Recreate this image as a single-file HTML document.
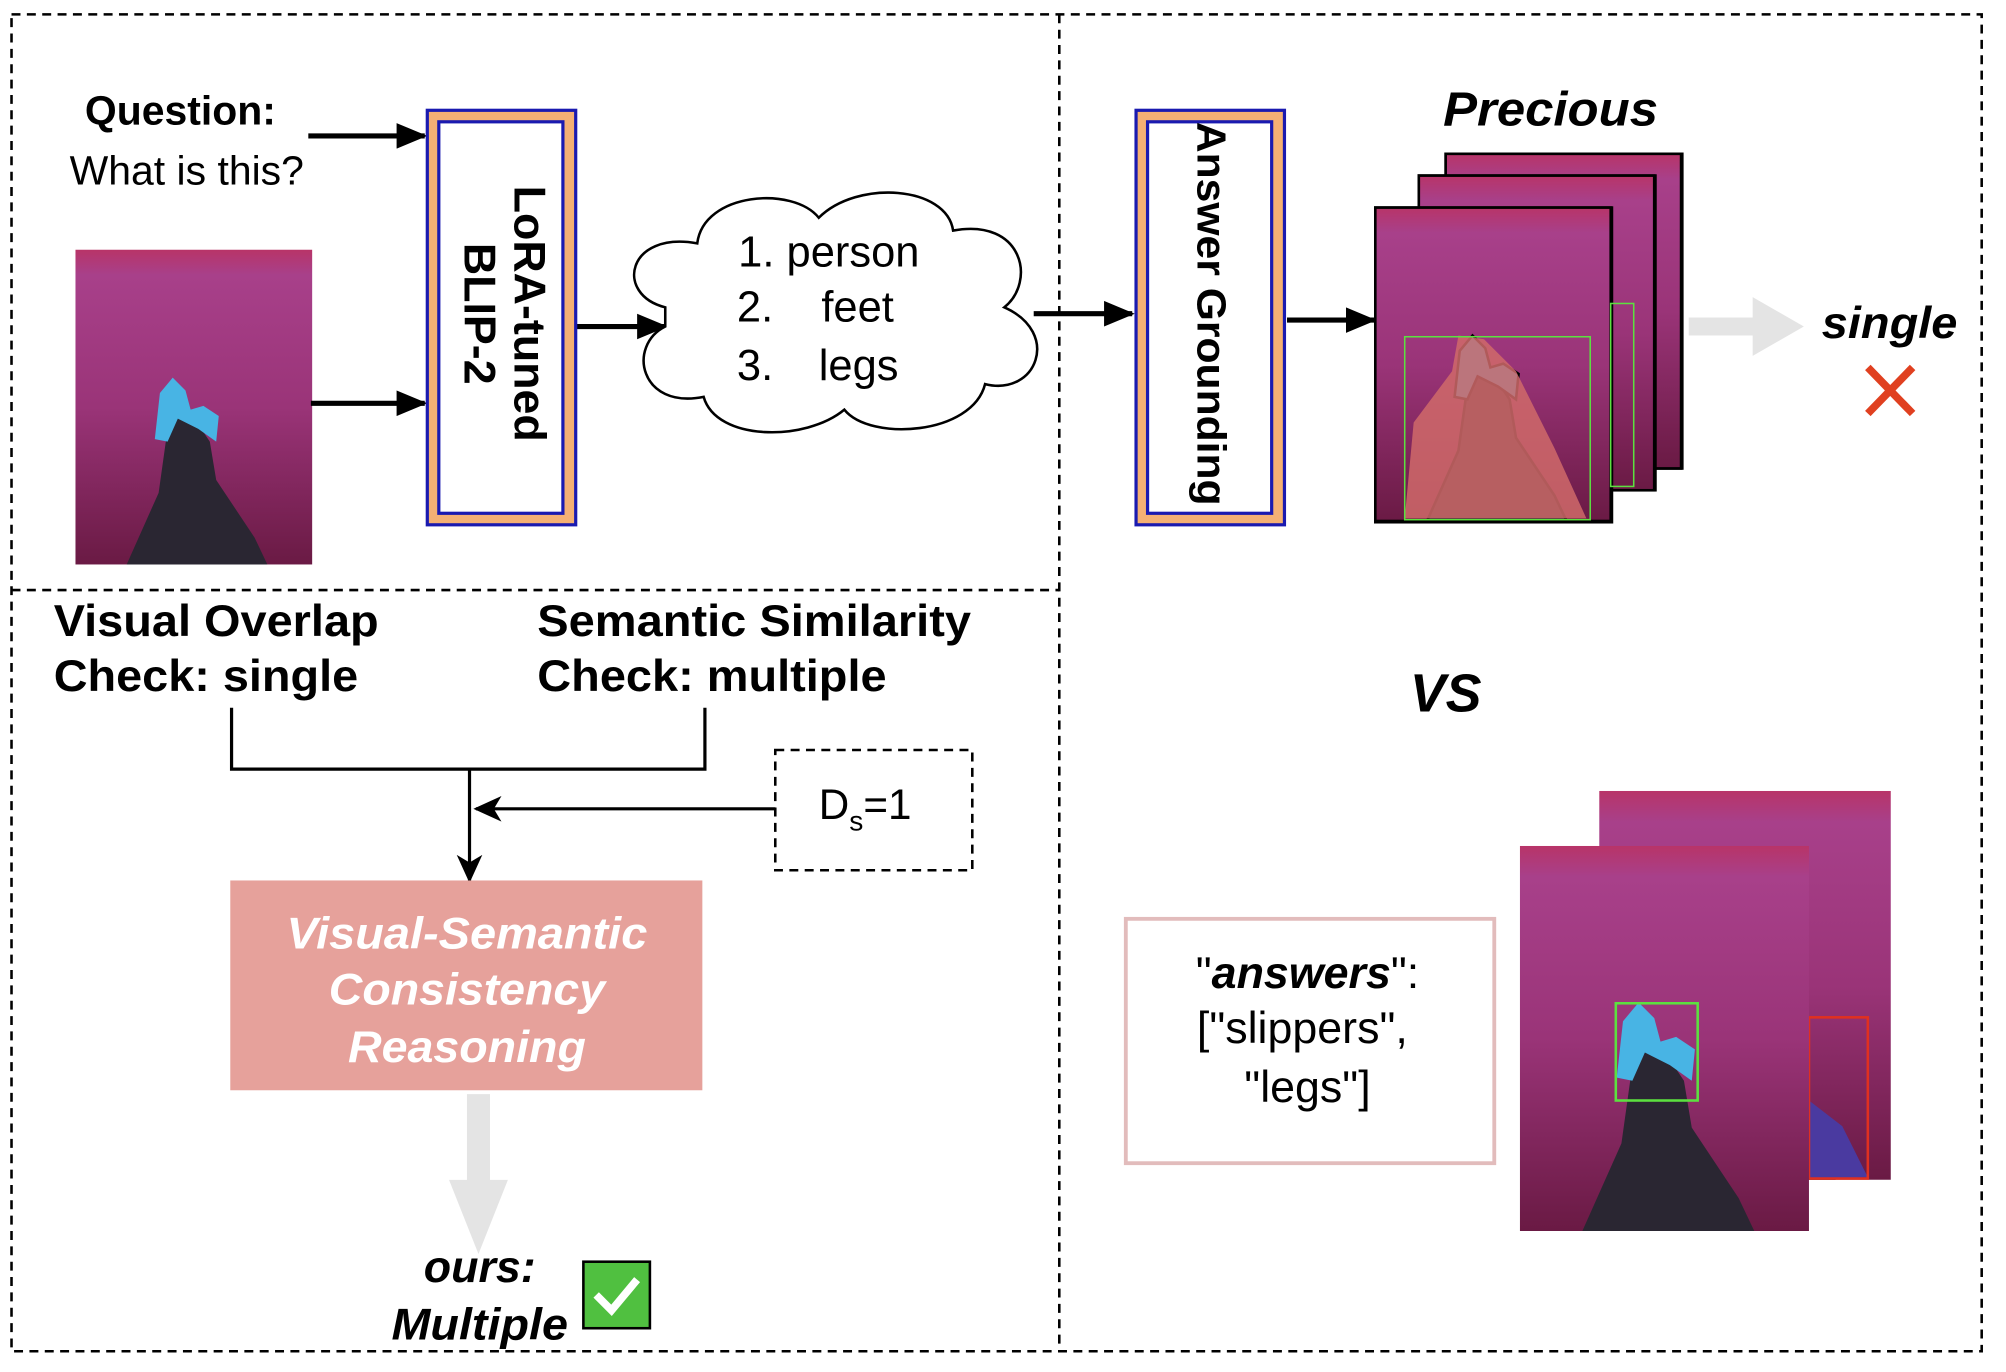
<!DOCTYPE html>
<html><head><meta charset="utf-8"><style>html,body{margin:0;padding:0;background:#fff}svg{display:block}</style></head><body>
<svg width="2006" height="1372" viewBox="0 0 1568 1072" xmlns="http://www.w3.org/2000/svg" font-family="Liberation Sans, sans-serif">
<defs>
<linearGradient id="carpet" x1="0" y1="0" x2="0" y2="1">
<stop offset="0" stop-color="#b83468"/><stop offset="0.08" stop-color="#a8408a"/><stop offset="0.5" stop-color="#9a3478"/><stop offset="1" stop-color="#6a1a44"/></linearGradient>
<marker id="ah" markerWidth="24" markerHeight="20" refX="22" refY="10" orient="auto" markerUnits="userSpaceOnUse" viewBox="0 0 24 20"><path d="M0,0 L24,10 L0,20 z" fill="#000"/></marker>
<marker id="ah2" markerWidth="22" markerHeight="20" refX="20" refY="10" orient="auto" markerUnits="userSpaceOnUse" viewBox="0 0 22 20"><path d="M0,0 L22,10 L0,20 L6,10 z" fill="#000"/></marker>
<g id="photo">
<rect x="0" y="0" width="185" height="246" fill="url(#carpet)"/>
<path d="M40,246 L65,190 L72,140 L78,130 L95,135 L105,150 L110,180 L140,225 L150,246 Z" fill="#2a2632"/>
<path d="M62,148 L66,112 L76,100 L86,110 L90,125 L100,122 L112,130 L110,150 L96,140 L80,132 L72,150 Z" fill="#48b4e4"/>
</g>
</defs>
<g fill="none" stroke="#000" stroke-width="2" stroke-dasharray="7,5">
<rect x="9" y="11" width="1540" height="1045"/>
<line x1="828" y1="11" x2="828" y2="1056"/>
<line x1="9" y1="461" x2="828" y2="461"/>
</g>
<text x="141" y="97" font-size="32" font-weight="bold" text-anchor="middle">Question:</text>
<text x="146" y="144" font-size="32" text-anchor="middle">What is this?</text>
<use href="#photo" x="59" y="195"/>
<g stroke="#000" stroke-width="4" marker-end="url(#ah)">
<line x1="241" y1="106" x2="332" y2="106"/>
<line x1="243" y1="315" x2="332" y2="315"/>
<line x1="450" y1="255" x2="520" y2="255"/>
<line x1="808" y1="245" x2="885" y2="245"/>
<line x1="1006" y1="250" x2="1074" y2="250"/>
</g>
<rect x="334" y="86" width="116" height="324" fill="#f4b074" stroke="#1a1ab0" stroke-width="2.5"/>
<rect x="343" y="95" width="97" height="306" fill="#fff" stroke="#1a1ab0" stroke-width="2.5"/>
<g transform="translate(391,245) rotate(90)" font-size="35" font-weight="bold" text-anchor="middle">
<text x="0" y="-11">LoRA-tuned</text><text x="0" y="28">BLIP-2</text></g>
<path d="M520,240 C480,230 490,180 545,190 C550,150 620,145 640,170 C670,140 740,145 745,180 C800,170 810,220 785,240 C830,260 810,310 770,300 C760,340 680,345 660,320 C630,345 560,345 550,310 C500,320 490,270 520,255 Z" fill="#fff" stroke="#000" stroke-width="2"/>
<g font-size="34">
<text x="577" y="208">1. person</text>
<text x="576" y="251">2.</text><text x="642" y="251">feet</text>
<text x="576" y="297">3.</text><text x="640" y="297">legs</text></g>
<rect x="888" y="86" width="116" height="324" fill="#f4b074" stroke="#1a1ab0" stroke-width="2.5"/>
<rect x="897" y="95" width="97" height="306" fill="#fff" stroke="#1a1ab0" stroke-width="2.5"/>
<text transform="translate(934,245) rotate(90)" font-size="32" font-weight="bold" text-anchor="middle" y="-2" textLength="300" lengthAdjust="spacingAndGlyphs">Answer Grounding</text>
<text x="1212" y="98" font-size="38" font-weight="bold" font-style="italic" text-anchor="middle" textLength="168" lengthAdjust="spacingAndGlyphs">Precious</text>
<g stroke="#000" stroke-width="2">
<use href="#photo" x="1130" y="120"/>
<rect x="1130" y="120" width="184" height="246" fill="none"/>
<use href="#photo" x="1109" y="137"/>
<rect x="1109" y="137" width="184" height="246" fill="none"/>
<use href="#photo" x="1075" y="162"/>
<rect x="1075" y="162" width="184" height="245" fill="none"/>
</g>
<path d="M1098,405 L1105,330 L1135,290 L1140,262 L1160,265 L1185,290 L1215,350 L1240,405 Z" fill="#d06a6a" opacity="0.85"/>
<rect x="1098" y="263" width="145" height="143" fill="none" stroke="#5ce040" stroke-width="1.2"/>
<rect x="1259" y="237" width="18" height="143" fill="none" stroke="#5ce040" stroke-width="1.2"/>
<path d="M1320,248 L1370,248 L1370,232 L1410,255 L1370,278 L1370,262 L1320,262 Z" fill="#e4e4e4"/>
<text x="1477" y="264" font-size="35" font-weight="bold" font-style="italic" text-anchor="middle" textLength="106" lengthAdjust="spacingAndGlyphs">single</text>
<g stroke="#e04020" stroke-width="6"><line x1="1460" y1="287" x2="1495" y2="323"/><line x1="1495" y1="287" x2="1460" y2="323"/></g>
<g font-size="35" font-weight="bold">
<text x="42" y="497" textLength="254" lengthAdjust="spacingAndGlyphs">Visual Overlap</text><text x="42" y="540" textLength="238" lengthAdjust="spacingAndGlyphs">Check: single</text>
<text x="420" y="497" textLength="339" lengthAdjust="spacingAndGlyphs">Semantic Similarity</text><text x="420" y="540" textLength="273" lengthAdjust="spacingAndGlyphs">Check: multiple</text></g>
<path d="M181,553 L181,601 L551,601 L551,553" fill="none" stroke="#000" stroke-width="2.5"/>
<line x1="367" y1="601" x2="367" y2="688" stroke="#000" stroke-width="2.5" marker-end="url(#ah2)"/>
<line x1="606" y1="632" x2="372" y2="632" stroke="#000" stroke-width="2.5" marker-end="url(#ah2)"/>
<rect x="606" y="586" width="154" height="94" fill="none" stroke="#000" stroke-width="2" stroke-dasharray="7,5"/>
<text x="640" y="640" font-size="33">D<tspan font-size="22" dy="9">s</tspan><tspan dy="-9">=1</tspan></text>
<rect x="180" y="688" width="369" height="164" fill="#e6a19b"/>
<g font-size="35" font-weight="bold" font-style="italic" fill="#fff" text-anchor="middle">
<text x="365" y="741" textLength="282" lengthAdjust="spacingAndGlyphs">Visual-Semantic</text><text x="365" y="785" textLength="216" lengthAdjust="spacingAndGlyphs">Consistency</text><text x="365" y="830" textLength="186" lengthAdjust="spacingAndGlyphs">Reasoning</text></g>
<path d="M365,855 L383,855 L383,922 L397,922 L374,980 L351,922 L365,922 Z" fill="#e4e4e4"/>
<g font-size="35" font-weight="bold" font-style="italic" text-anchor="middle">
<text x="375" y="1002">ours:</text><text x="375" y="1047" textLength="138" lengthAdjust="spacingAndGlyphs">Multiple</text></g>
<rect x="456" y="986" width="52" height="52" fill="#50c040" stroke="#000" stroke-width="2"/>
<path d="M466,1012 L478,1024 L498,1000" fill="none" stroke="#fff" stroke-width="6"/>
<text x="1130" y="556" font-size="42" font-weight="bold" font-style="italic" text-anchor="middle">VS</text>
<rect x="880" y="718" width="288" height="191" fill="none" stroke="#e2bcbc" stroke-width="3"/>
<g font-size="35" text-anchor="middle">
<text x="1022" y="772">"<tspan font-weight="bold" font-style="italic">answers</tspan>":</text>
<text x="1018" y="815">["slippers",</text><text x="1022" y="861">"legs"]</text></g>
<svg x="1250" y="618" width="228" height="304" viewBox="0 0 185 246" preserveAspectRatio="none"><use href="#photo"/></svg>
<path d="M1414,860 L1440,880 L1460,920 L1414,921 Z" fill="#4a3aa0"/>
<rect x="1414" y="795" width="46" height="126" fill="none" stroke="#e03020" stroke-width="2"/>
<svg x="1188" y="661" width="226" height="301" viewBox="0 0 185 246" preserveAspectRatio="none"><use href="#photo"/></svg>
<rect x="1263" y="784" width="64" height="76" fill="none" stroke="#5ce040" stroke-width="2"/>
</svg>
</body></html>
